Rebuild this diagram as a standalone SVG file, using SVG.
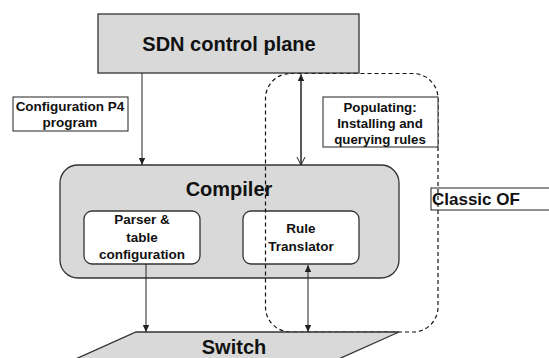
<svg xmlns="http://www.w3.org/2000/svg" width="549" height="358" viewBox="0 0 549 358">
<defs>
<style>
text{font-family:"Liberation Sans",Arial,sans-serif;font-weight:bold;fill:#111;text-anchor:middle}
.gray{fill:#d9d9d9;stroke:#333;stroke-width:1.3}
.white{fill:#fff;stroke:#333;stroke-width:1.3}
.lbl{fill:#fff;stroke:#222;stroke-width:1}
.conn{stroke:#222;stroke-width:1;fill:none}
.big{font-size:20px}
.mid{font-size:13.5px}
.sm{font-size:13.3px}
</style>
<marker id="ah" markerWidth="8" markerHeight="8" refX="7" refY="4" orient="auto" markerUnits="userSpaceOnUse">
<path d="M0,0.8 L7,4 L0,7.2 Z" fill="#222"/>
</marker>
<marker id="ahs" markerWidth="8" markerHeight="8" refX="7" refY="4" orient="auto-start-reverse" markerUnits="userSpaceOnUse">
<path d="M0,0.8 L7,4 L0,7.2 Z" fill="#222"/>
</marker>
<marker id="open" markerWidth="10" markerHeight="10" refX="8" refY="5" orient="auto" markerUnits="userSpaceOnUse">
<path d="M0,1 L8,5 L0,9" fill="none" stroke="#222" stroke-width="1"/>
</marker>
</defs>

<g id="compiler">
<rect class="gray" x="60" y="165" width="339" height="113" rx="18"/>
<text class="big" x="229" y="196">Compiler</text>
</g>
<g id="parser">
<rect class="white" x="84" y="211" width="116" height="53" rx="8"/>
<text class="mid" x="142" y="224">Parser &amp;</text>
<text class="mid" x="142" y="242">table</text>
<text class="mid" x="142" y="259">configuration</text>
</g>
<g id="rule-translator">
<rect class="white" x="243" y="211" width="116" height="53" rx="8"/>
<text class="mid" x="301" y="233">Rule</text>
<text class="mid" x="301" y="251">Translator</text>
</g>

<g id="classic-of">
<rect x="265.5" y="73.5" width="172.5" height="258.5" rx="25" fill="none" stroke="#111" stroke-width="1.2" stroke-dasharray="4,3"/>
</g>

<g id="sdn-control-plane">
<rect class="gray" x="98" y="14" width="261" height="59"/>
<text class="big" x="229" y="51">SDN control plane</text>
</g>

<g id="switch">
<polygon class="gray" points="136,332 399,332 314,370 51,370"/>
<text class="big" x="234" y="354">Switch</text>
</g>

<g id="config-label">
<rect class="lbl" x="13" y="97" width="115" height="34"/>
<text class="mid" x="70" y="111">Configuration P4</text>
<text class="mid" x="70" y="127">program</text>
</g>

<g id="populating-label">
<rect class="lbl" x="323" y="97" width="115" height="50"/>
<text class="sm" x="380" y="112">Populating:</text>
<text class="sm" x="380" y="128">Installing and</text>
<text class="sm" x="380" y="144">querying rules</text>
</g>

<g id="classic-of-label">
<rect x="431" y="188" width="125" height="22" fill="none" stroke="#222" stroke-width="1"/>
<text x="432" y="205" style="font-size:17px;text-anchor:start">Classic OF</text>
</g>

<g id="connectors">
<line class="conn" x1="142" y1="73" x2="142" y2="165" marker-end="url(#ah)"/>
<line class="conn" x1="301" y1="165" x2="301" y2="74" marker-end="url(#ah)"/>
<line class="conn" x1="301" y1="80" x2="301" y2="165" marker-end="url(#open)"/>
<line class="conn" x1="146" y1="264" x2="146" y2="332" marker-end="url(#ah)"/>
<line class="conn" x1="308" y1="265" x2="308" y2="332" marker-start="url(#ahs)" marker-end="url(#ah)"/>
</g>
</svg>
